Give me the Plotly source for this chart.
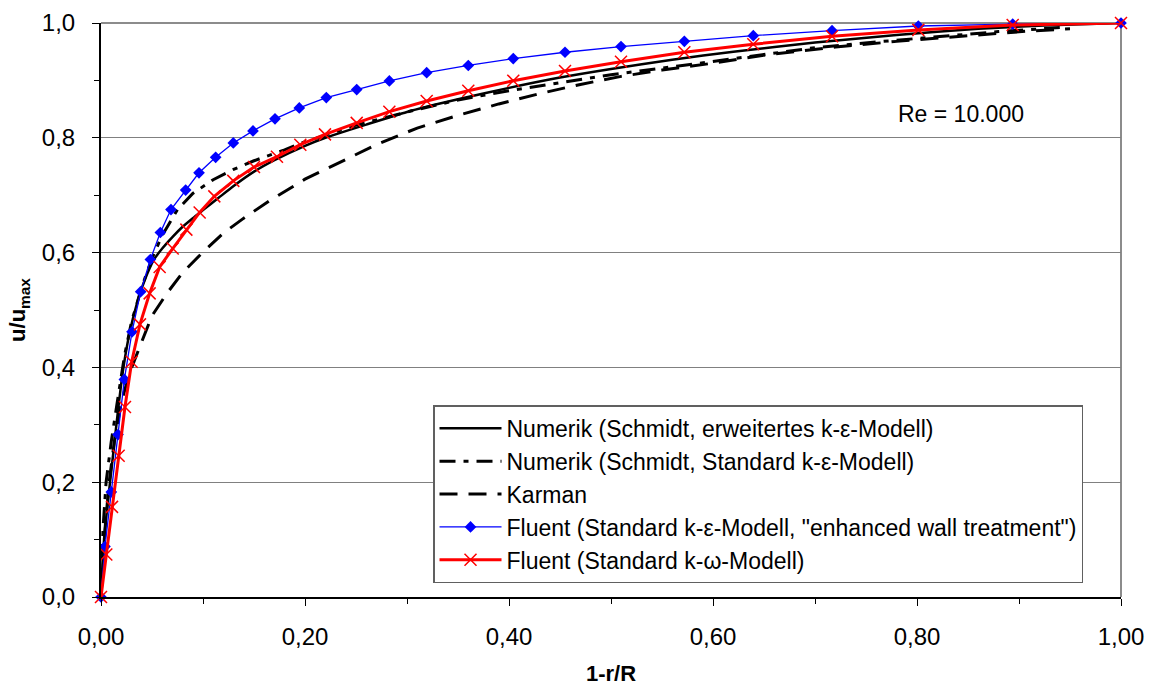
import plotly.graph_objects as go

# --- Data ---
x_num_ext = [0, 0.003, 0.007, 0.012, 0.017, 0.022, 0.028, 0.035, 0.042, 0.052, 0.06, 0.07, 0.08, 0.09,
             0.1, 0.115, 0.13, 0.15, 0.17, 0.2, 0.22, 0.26, 0.3, 0.35, 0.4, 0.45, 0.5, 0.56, 0.62, 0.7,
             0.78, 0.86, 0.93, 1.0]
y_num_ext = [0, 0.10, 0.17, 0.25, 0.33, 0.40, 0.46, 0.51, 0.548, 0.588, 0.607, 0.627, 0.645, 0.66,
             0.674, 0.695, 0.716, 0.741, 0.761, 0.786, 0.800, 0.823, 0.845, 0.867, 0.887, 0.905, 0.920,
             0.936, 0.950, 0.966, 0.979, 0.990, 0.996, 1.0]

x_num_std = [0, 0.002, 0.005, 0.01, 0.016, 0.023, 0.03, 0.04, 0.05, 0.06, 0.075, 0.09, 0.11, 0.13,
             0.15, 0.165, 0.18, 0.195, 0.22, 0.25, 0.3, 0.35, 0.4, 0.45, 0.5, 0.57, 0.64, 0.7, 0.76,
             0.82, 0.88, 0.94]
y_num_std = [0, 0.12, 0.20, 0.27, 0.34, 0.42, 0.48, 0.54, 0.59, 0.63, 0.675, 0.703, 0.727, 0.745,
             0.76, 0.769, 0.779, 0.79, 0.805, 0.822, 0.845, 0.866, 0.882, 0.896, 0.91, 0.926, 0.943, 0.957,
             0.967, 0.976, 0.985, 0.992]

x_karman = [0, 0.004, 0.008, 0.013, 0.02, 0.028, 0.038, 0.05, 0.065, 0.08, 0.1, 0.12, 0.14, 0.165,
            0.2, 0.235, 0.27, 0.31, 0.35, 0.39, 0.43, 0.47, 0.51, 0.55, 0.6, 0.65, 0.72, 0.78, 0.85,
            0.91, 0.95]
y_karman = [0, 0.12, 0.20, 0.27, 0.34, 0.39, 0.436, 0.49, 0.53, 0.565, 0.601, 0.634, 0.66, 0.69,
            0.728, 0.758, 0.788, 0.817, 0.839, 0.859, 0.877, 0.893, 0.907, 0.918, 0.93, 0.944, 0.958,
            0.968, 0.978, 0.986, 0.99]

x_fluent_ke = [0, 0.0039, 0.0101, 0.0167, 0.0229, 0.0304, 0.0389, 0.0484, 0.0582, 0.0686, 0.083,
               0.0961, 0.1124, 0.1297, 0.149, 0.1706, 0.1944, 0.2209, 0.2507, 0.2827, 0.3193, 0.3601,
               0.4042, 0.4549, 0.5098, 0.5719, 0.6395, 0.7167, 0.8013, 0.8938, 1.0]
y_fluent_ke = [0, 0.088, 0.183, 0.283, 0.379, 0.462, 0.532, 0.588, 0.635, 0.675, 0.709, 0.739, 0.766,
               0.791, 0.812, 0.833, 0.852, 0.870, 0.884, 0.899, 0.9135, 0.926, 0.938, 0.949, 0.959, 0.968,
               0.978, 0.9866, 0.9948, 0.998, 1.0]

x_fluent_kw = [0, 0.0052, 0.0108, 0.0173, 0.0235, 0.0301, 0.0382, 0.0477, 0.0575, 0.0703, 0.0837,
               0.0967, 0.1111, 0.1297, 0.15, 0.1725, 0.1954, 0.2196, 0.2507, 0.2827, 0.3193, 0.3601,
               0.4042, 0.4549, 0.5098, 0.5719, 0.6395, 0.7167, 0.8013, 0.8938, 1.0]
y_fluent_kw = [0, 0.074, 0.157, 0.246, 0.331, 0.41, 0.475, 0.529, 0.575, 0.607, 0.64, 0.67, 0.698,
               0.725, 0.749, 0.767, 0.788, 0.806, 0.826, 0.8455, 0.864, 0.882, 0.8995, 0.9164, 0.9326,
               0.949, 0.963, 0.977, 0.988, 0.9965, 1.0]

names = [
    "Numerik (Schmidt, erweitertes k-ε-Modell)",
    "Numerik (Schmidt, Standard k-ε-Modell)",
    "Karman",
    "Fluent (Standard k-ε-Modell, \"enhanced wall treatment\")",
    "Fluent (Standard k-ω-Modell)",
]

FONT = "Liberation Sans, Arial, sans-serif"

fig = go.Figure()
fig.add_trace(go.Scatter(x=x_num_ext, y=y_num_ext, mode="lines", name=names[0],
                         line=dict(color="black", width=2.5, shape="spline", smoothing=0.6),
                         legendgroup="g1", cliponaxis=False))
fig.add_trace(go.Scatter(x=x_num_std, y=y_num_std, mode="lines", name=names[1],
                         line=dict(color="black", width=3, dash="16px,8px,5px,8px"), legendgroup="g2",
                         cliponaxis=False))
fig.add_trace(go.Scatter(x=x_karman, y=y_karman, mode="lines", name=names[2],
                         line=dict(color="black", width=3, dash="18px,11px"), legendgroup="g3",
                         cliponaxis=False))
fig.add_trace(go.Scatter(x=x_fluent_ke, y=y_fluent_ke, mode="lines+markers", name=names[3],
                         line=dict(color="#0000FF", width=1.3),
                         marker=dict(symbol="diamond", size=9, color="#0000FF"),
                         legendgroup="g4", cliponaxis=False))
fig.add_trace(go.Scatter(x=x_fluent_kw, y=y_fluent_kw, mode="lines+markers", name=names[4],
                         line=dict(color="#FF0000", width=3),
                         marker=dict(symbol="x-thin", size=12, color="#FF0000",
                                     line=dict(color="#FF0000", width=1.5)),
                         legendgroup="g5", cliponaxis=False))

# plot area border (right side gray) and top gridline
fig.add_shape(type="line", xref="paper", yref="paper", x0=1, x1=1, y0=0, y1=1,
              line=dict(color="#8c8c8c", width=2), layer="below")
fig.add_shape(type="line", xref="paper", yref="paper", x0=0, x1=1, y0=1, y1=1,
              line=dict(color="#8c8c8c", width=2), layer="below")

fig.add_annotation(x=0.8436, y=0.8415, xref="x", yref="y", text="Re = 10.000", showarrow=False,
                   font=dict(size=23, color="black", family=FONT))

fig.update_layout(
    width=1152, height=686,
    margin=dict(l=101, r=31, t=23, b=89),
    paper_bgcolor="white", plot_bgcolor="white",
    separators=",.",
    font=dict(family=FONT, size=22, color="black"),
    showlegend=True,
    legend=dict(
        x=0.3255, y=0.334, xanchor="left", yanchor="top",
        bgcolor="white", bordercolor="#606060", borderwidth=1.5,
        font=dict(size=23, family=FONT, color="black"),
        traceorder="grouped", tracegroupgap=0, itemwidth=62,
    ),
    xaxis=dict(
        range=[0, 1], tickmode="linear", tick0=0, dtick=0.2, tickformat=".2f",
        showgrid=False, zeroline=False, showline=True, linecolor="black", linewidth=2,
        ticks="outside", ticklen=7, tickcolor="black", tickwidth=1,
        minor=dict(dtick=0.1, ticks="outside", ticklen=5, tickcolor="black", showgrid=False),
        ticklabelstandoff=10, automargin=False,
        tickfont=dict(size=24),
        title=dict(text="<b>1-r/R</b>", font=dict(size=22, family=FONT), standoff=28),
    ),
    yaxis=dict(
        range=[0, 1], tickmode="linear", tick0=0, dtick=0.2, tickformat=".1f",
        showgrid=True, gridcolor="#808080", gridwidth=1.2,
        zeroline=False, showline=True, linecolor="black", linewidth=2,
        ticks="outside", ticklen=7, tickcolor="black", tickwidth=1,
        minor=dict(dtick=0.1, ticks="outside", ticklen=5, tickcolor="black", showgrid=False),
        ticklabelstandoff=12, automargin="left",
        tickfont=dict(size=24),
        title=dict(text="<b>u/u<sub>max</sub></b>", font=dict(size=22, family=FONT), standoff=10),
    ),
)

fig.write_html("out.html")
